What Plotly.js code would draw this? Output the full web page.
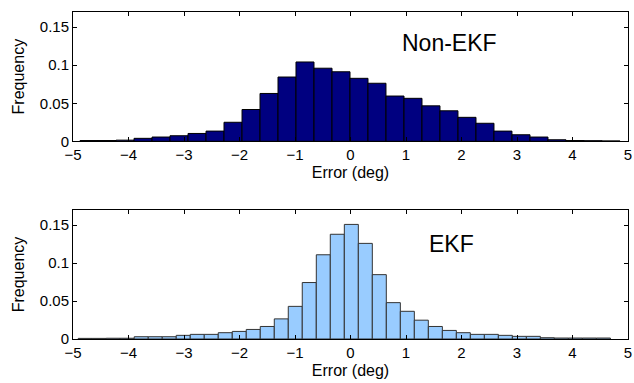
<!DOCTYPE html>
<html>
<head>
<meta charset="utf-8">
<script src="https://cdn.plot.ly/plotly-3.0.1.min.js"></script>
<style>html,body{margin:0;padding:0;background:#fff}#chart{width:634px;height:383px}</style>
</head>
<body>
<div id="chart"></div>
<script>
// Non-EKF histogram (bin centres, width, relative frequency)
const nonEkfCenters = [-4.711,-4.387,-4.062,-3.738,-3.414,-3.090,-2.765,-2.441,-2.117,-1.792,-1.468,-1.144,-0.820,-0.495,-0.171,0.153,0.477,0.802,1.126,1.450,1.774,2.099,2.423,2.747,3.072,3.396,3.720,4.044,4.369,4.693];
const nonEkfWidth = 0.3243;
const nonEkfFreq = [0.001,0.001,0.0015,0.0039,0.0056,0.0073,0.0103,0.0134,0.025,0.0418,0.0629,0.0845,0.1043,0.0961,0.0914,0.0828,0.0763,0.0595,0.0565,0.0466,0.0401,0.0315,0.0237,0.0134,0.0086,0.0056,0.002,0.001,0.0008,0.0005];

// EKF histogram
const ekfCenters = [-4.780,-4.527,-4.275,-4.023,-3.771,-3.518,-3.266,-3.014,-2.761,-2.509,-2.257,-2.004,-1.752,-1.500,-1.247,-0.995,-0.743,-0.490,-0.238,0.015,0.267,0.519,0.772,1.024,1.276,1.529,1.781,2.033,2.286,2.538,2.790,3.043,3.295,3.547,3.800,4.052,4.304,4.557];
const ekfWidth = 0.2523;
const ekfFreq = [0.0008,0.0008,0.001,0.001,0.003,0.003,0.003,0.0048,0.0061,0.0061,0.0083,0.010,0.0126,0.0165,0.0265,0.043,0.0744,0.111,0.138,0.151,0.126,0.0848,0.0479,0.0365,0.0248,0.0165,0.0113,0.0083,0.0061,0.0061,0.0048,0.0035,0.0035,0.0017,0.0013,0.0013,0.0013,0.0013];

const xTicks = [-5,-4,-3,-2,-1,0,1,2,3,4,5];
const yTicks = [0,0.05,0.1,0.15];
const labels = {top: 'Non-EKF', bottom: 'EKF'};

const fam = 'Arial, "Liberation Sans", sans-serif';
const tickFont = {family: fam, size: 15, color: '#000'};
const titleFont = {family: fam, size: 16, color: '#000'};

const traces = [
  {type: 'bar', x: nonEkfCenters, y: nonEkfFreq, width: nonEkfWidth,
   marker: {color: '#000080', line: {color: '#000', width: 1}}, xaxis: 'x', yaxis: 'y', hoverinfo: 'skip'},
  {type: 'bar', x: ekfCenters, y: ekfFreq, width: ekfWidth,
   marker: {color: '#99ccff', line: {color: '#333', width: 1}}, xaxis: 'x2', yaxis: 'y2', hoverinfo: 'skip'}
];

function xax(anchor) {
  return {range: [-5, 5], tickvals: xTicks, ticks: 'inside', ticklen: 4, tickcolor: '#000',
    showline: true, linecolor: '#000', linewidth: 1, mirror: 'ticks', showgrid: false, zeroline: false,
    anchor: anchor, title: {text: 'Error (deg)', font: titleFont, standoff: 4}, tickfont: tickFont, domain: [0, 1]};
}
function yax(anchor, domain) {
  return {range: [0, 0.17], tickvals: yTicks, ticktext: ['0','0.05','0.1','0.15'], ticks: 'inside', ticklen: 4, tickcolor: '#000',
    showline: true, linecolor: '#000', linewidth: 1, mirror: 'ticks', showgrid: false, zeroline: false,
    anchor: anchor, title: {text: 'Frequency', font: titleFont, standoff: 11}, tickfont: tickFont, domain: domain};
}

const layout = {
  width: 634, height: 383,
  margin: {l: 73, r: 6, t: 12, b: 44},
  paper_bgcolor: '#fff', plot_bgcolor: '#fff',
  showlegend: false, bargap: 0, font: tickFont,
  xaxis: xax('y'), yaxis: yax('x', [0.6046, 1]),
  xaxis2: xax('y2'), yaxis2: yax('x2', [0, 0.3945]),
  annotations: [
    {text: labels.top, x: 1.79, y: 0.1287, xref: 'x', yref: 'y', showarrow: false, font: {family: fam, size: 23, color: '#000'}},
    {text: labels.bottom, x: 1.82, y: 0.1257, xref: 'x2', yref: 'y2', showarrow: false, font: {family: fam, size: 23, color: '#000'}}
  ]
};

Plotly.newPlot('chart', traces, layout, {displayModeBar: false, staticPlot: true});
</script>
</body>
</html>
